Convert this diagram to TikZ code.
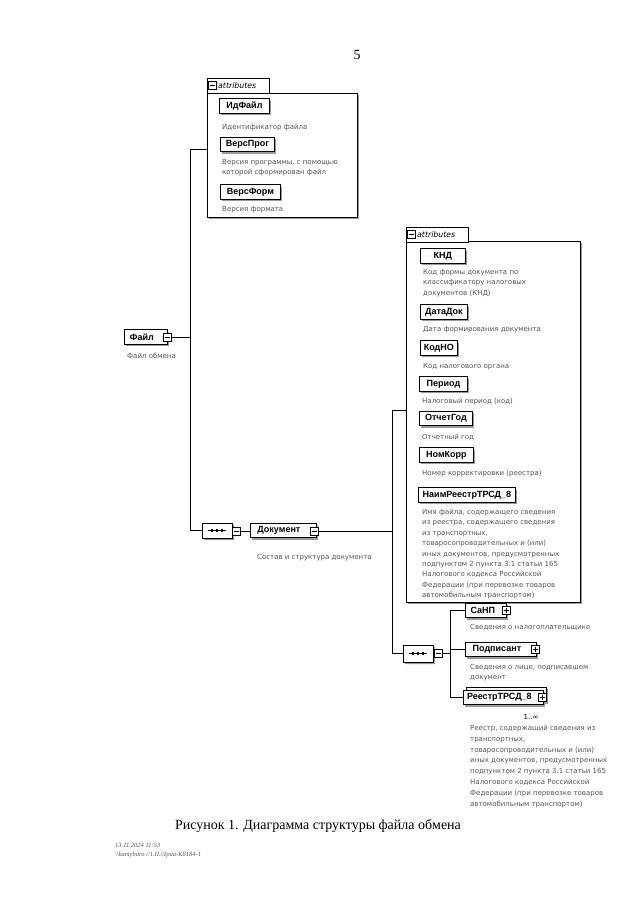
\documentclass[tikz,border=0pt]{standalone}
\usepackage{fontspec}
\setmainfont{Liberation Serif}
\newfontfamily\lab{Liberation Sans}
\newfontfamily\dsc{DejaVu Sans}
\usetikzlibrary{shapes.misc,shadows}
\definecolor{desc}{HTML}{555555}
\definecolor{shd}{HTML}{9A9A9A}
\tikzset{
  shd/.style={drop shadow={shadow xshift=2pt, shadow yshift=-2pt, fill=shd, opacity=1}},
  elem/.style={draw, line width=0.8pt, fill=white, anchor=west, inner sep=0pt,
    minimum height=14.5pt, font=\lab\bfseries\fontsize{9}{10}\selectfont, shd},
  descr/.style={anchor=north west, inner sep=0pt, align=left, text=desc,
    font=\dsc\fontsize{7}{10.5}\selectfont},
  minusbox/.style={draw, line width=0.6pt, fill=white, minimum size=8pt, inner sep=0pt,
    path picture={\draw[line width=0.6pt] ([xshift=1.5pt]path picture bounding box.west) -- ([xshift=-1.5pt]path picture bounding box.east);}},
  plusbox/.style={minusbox,
    postaction={path picture={\draw[line width=0.6pt] ([yshift=1.5pt]path picture bounding box.south) -- ([yshift=-1.5pt]path picture bounding box.north);}}},
  attrbox/.style={draw, line width=0.6pt, fill=white, anchor=north west, inner sep=0pt,
    drop shadow={shadow xshift=1.5pt, shadow yshift=-1.5pt, fill=shd, opacity=1}},
  attrtab/.style={draw, line width=0.6pt, fill=white, anchor=north west, inner sep=0pt,
    minimum height=15pt, text depth=0pt},
  tabtext/.style={anchor=west, inner sep=0pt, font=\dsc\itshape\fontsize{7.8}{9}\selectfont},
  seqbox/.style={draw, line width=0.8pt, fill=white, chamfered rectangle, chamfered rectangle xsep=3pt,
    chamfered rectangle ysep=3pt, inner sep=0pt, minimum width=30pt, minimum height=15pt, shd},
  conn/.style={line width=0.7pt},
}
\begin{document}
\begin{tikzpicture}[x=1pt,y=-1pt]
\useasboundingbox[fill=white] (0,0) rectangle (640,901);

% page number
\node[font=\fontsize{14}{16}\selectfont] (pnum) at (357,55) {5};

% ---------- first attributes group ----------
\node[attrbox, minimum width=150pt, minimum height=124pt] (ab1) at (207,93) {};
\node[attrtab, minimum width=62pt] (at1) at (207,78) {};
\node[minusbox] (at1m) at (212.5,85.5) {};
\node[tabtext] (at1t) at (218,85.5) {attributes};

\node[elem, minimum width=50pt] (idf) at (219,106) {ИдФайл};
\node[descr] (idfd) at (222,123.5) {Идентификатор файла};
\node[elem, minimum width=54pt] (vprog) at (220,144.5) {ВерсПрог};
\node[descr] (vprogd) at (222,159) {Версия программы, с помощью\\которой сформирован файл};
\node[elem, minimum width=60pt] (vform) at (220,192) {ВерсФорм};
\node[descr] (vformd) at (222,206) {Версия формата};

% ---------- root element ----------
\node[elem, minimum width=43pt] (file) at (124,337) {Файл\hspace*{8pt}};
\node[minusbox] (filei) at (167,337) {};
\node[descr] (filed) at (127,353) {Файл обмена};

% ---------- sequence 1 and Документ ----------
\node[seqbox] (seq1) at (217,530.5) {};
\draw[line width=0.7pt] ([xshift=-9pt]seq1.center) -- ([xshift=9pt]seq1.center);
\foreach \dx in {-5,0,5} \fill ([xshift=\dx pt]seq1.center) +(-1.3,-1.3) rectangle +(1.3,1.3);
\node[minusbox] (seq1i) at (236.5,531) {};

\node[elem, minimum width=66pt] (doc) at (250,530.5) {Документ\hspace*{9pt}};
\node[minusbox] (doci) at (314,531) {};
\node[descr] (docd) at (257,554) {Состав и структура документа};

% ---------- second attributes group ----------
\node[attrbox, minimum width=174pt, minimum height=361pt] (ab2) at (406,241) {};
\node[attrtab, minimum width=62pt] (at2) at (406,227) {};
\node[minusbox] (at2m) at (411.5,234.5) {};
\node[tabtext] (at2t) at (417,234.5) {attributes};

\node[elem, minimum width=45pt] (knd) at (420,256) {КНД};
\node[descr] (kndd) at (423,269) {Код формы документа по\\классификатору налоговых\\документов (КНД)};
\node[elem, minimum width=47pt] (datadok) at (420,312) {ДатаДок};
\node[descr] (datadokd) at (423,326) {Дата формирования документа};
\node[elem, minimum width=37pt] (kodno) at (420,348) {КодНО};
\node[descr] (kodnod) at (423,363) {Код налогового органа};
\node[elem, minimum width=48pt] (period) at (419,384) {Период};
\node[descr] (periodd) at (422,398) {Налоговый период (код)};
\node[elem, minimum width=53pt] (otchgod) at (419,418.5) {ОтчетГод};
\node[descr] (otchgodd) at (422,434) {Отчетный год};
\node[elem, minimum width=54pt] (nomkorr) at (419,455) {НомКорр};
\node[descr] (nomkorrd) at (422,470) {Номер корректировки (реестра)};
\node[elem, minimum width=97pt] (naim) at (418,495) {НаимРеестрТРСД\_8};
\node[descr, font=\dsc\fontsize{7}{10.4}\selectfont] (naimd) at (422,509) {Имя файла, содержащего сведения\\из реестра, содержащего сведения\\из транспортных,\\товаросопроводительных и (или)\\иных документов, предусмотренных\\подпунктом 2 пункта 3.1 статьи 165\\Налогового кодекса Российской\\Федерации (при перевозке товаров\\автомобильным транспортом)};

% ---------- sequence 2 and children ----------
\node[seqbox, minimum height=17pt] (seq2) at (418,653.5) {};
\draw[line width=0.7pt] ([xshift=-9pt]seq2.center) -- ([xshift=9pt]seq2.center);
\foreach \dx in {-5,0,5} \fill ([xshift=\dx pt]seq2.center) +(-1.3,-1.3) rectangle +(1.3,1.3);
\node[minusbox] (seq2i) at (438,653.5) {};

\node[elem, minimum width=41pt] (sanp) at (465,610.5) {СаНП\hspace*{6pt}};
\node[plusbox] (sanpi) at (506,610.5) {};
\node[descr] (sanpd) at (470,624) {Сведения о налогоплательщике};

\node[elem, minimum width=71pt] (podp) at (465,649.5) {Подписант\hspace*{8pt}};
\node[plusbox] (podpi) at (535,649.5) {};
\node[descr] (podpd) at (470,664) {Сведения о лице, подписавшем\\документ};

\node[elem, minimum width=80pt, anchor=west] (reestrback) at (466,694.5) {};
\node[elem, minimum width=80pt] (reestr) at (463,697.5) {РеестрТРСД\_8\hspace*{8pt}};
\node[plusbox] (reestri) at (542,697.5) {};
\node[font=\dsc\fontsize{7}{8}\selectfont] (mult) at (531,717) {1..∞};
\node[descr, font=\dsc\fontsize{7}{10.8}\selectfont] (reestrd) at (470,725) {Реестр, содержащий сведения из\\транспортных,\\товаросопроводительных и (или)\\иных документов, предусмотренных\\подпунктом 2 пункта 3.1 статьи 165\\Налогового кодекса Российской\\Федерации (при перевозке товаров\\автомобильным транспортом)};

% ---------- connectors ----------
\coordinate (j1) at (190,149);
\draw[conn] (ab1.west |- j1) -- (j1) -- (j1 |- seq1.west) -- (seq1.west);
\draw[conn] (filei.east) -- (filei.east -| j1);
\draw[conn] (seq1i.east) -- (seq1i.east -| doc.west);

\coordinate (j2) at (392,410);
\draw[conn] (ab2.west |- j2) -- (j2) -- (j2 |- seq2.west) -- (seq2.west);
\draw[conn] (doci.east) -- (doci.east -| j2);

\coordinate (j3) at (450,653.5);
\draw[conn] (seq2i.east) -- (j3);
\draw[conn] (j3 |- sanp.west) -- (j3 |- reestr.west);
\draw[conn] (j3 |- sanp.west) -- (sanp.west);
\draw[conn] (j3 |- podp.west) -- (podp.west);
\draw[conn] (j3 |- reestr.west) -- (reestr.west);

% ---------- caption and footer ----------
\node[font=\fontsize{14}{16}\selectfont] (cap) at (318,826) {Рисунок 1. Диаграмма структуры файла обмена};
\node[anchor=north west, inner sep=0pt, align=left, text=black!65,
  font=\itshape\fontsize{6.5}{9}\selectfont] (foot) at (115,843)
  {13.11.2024 11:53\\\textbackslash\textbackslash kamyburo //1.II.//Ipua-K8184-1};
\end{tikzpicture}
\end{document}
